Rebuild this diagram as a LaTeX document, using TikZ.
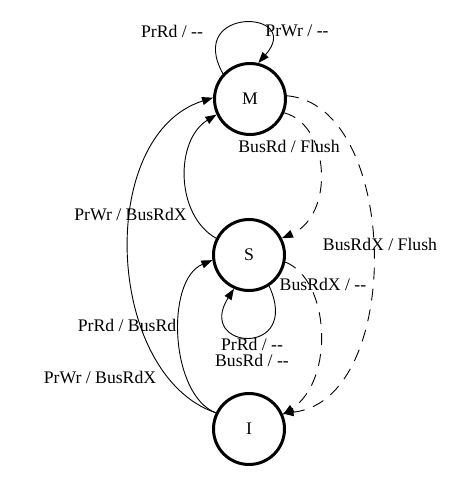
\documentclass[tikz,border=0pt]{standalone}
\usepackage{fontspec}
\setmainfont{Liberation Serif}
\usetikzlibrary{arrows.meta}
\newcommand{\dashdash}{\mbox{-}\mbox{-}}
\begin{document}
\begin{tikzpicture}[x=1pt,y=-1pt,
  state/.style={circle,draw,line width=3pt,minimum size=71pt,inner sep=0pt,font=\fontsize{17.7}{19}\selectfont},
  lbl/.style={inner sep=0pt,font=\fontsize{17.7}{15.5}\selectfont,align=center},
  edge/.style={line width=0.9pt,-{Triangle[length=11pt,width=8pt]}},
  dedge/.style={edge,dash pattern=on 12pt off 9pt}]
\useasboundingbox (0,0) rectangle (474,486);
\node[state] (M) at (250,99) {M};
\node[state] (S) at (249,255) {S};
\node[state] (I) at (249,429) {I};
% M self loop
\draw[edge] (M.137) .. controls (185,5) and (305,10) .. (M.77);
\node[lbl] (l1) at (172,31) {PrRd / \dashdash};
\node[lbl] (l2) at (297,31) {PrWr / \dashdash};
% S -> M
\draw[edge] (S.153) .. controls (175,215) and (175,140) .. (M.205);
\node[lbl] (l3) at (130.5,214) {PrWr / BusRdX};
% I -> S
\draw[edge] (I.154) .. controls (170,395) and (165,280) .. (S.188);
\node[lbl] (l4) at (127,325) {PrRd / BusRd};
% I -> M
\draw[edge] (I.154) .. controls (105,375) and (95,135) .. (M.178);
\node[lbl] (l5) at (100,377) {PrWr / BusRdX};
% M -> S dashed
\draw[dedge] (M.338) .. controls (330,125) and (335,215) .. (S.27);
\node[lbl] (l6) at (289,146) {BusRd / Flush};
% M -> I dashed
\draw[dedge] (M.5) .. controls (400,105) and (405,400) .. (I.25);
\node[lbl] (l7) at (380,244) {BusRdX / Flush};
% S -> I dashed
\draw[dedge] (S.349) .. controls (330,280) and (335,380) .. (I.23);
\node[lbl] (l8) at (323,284) {BusRdX / \dashdash};
% S self loop
\draw[edge] (S.303) .. controls (302,358) and (195,350) .. (S.246);
\node[lbl] (l9) at (252,352.5) {PrRd / \dashdash\\BusRd / \dashdash};
\end{tikzpicture}
\end{document}
